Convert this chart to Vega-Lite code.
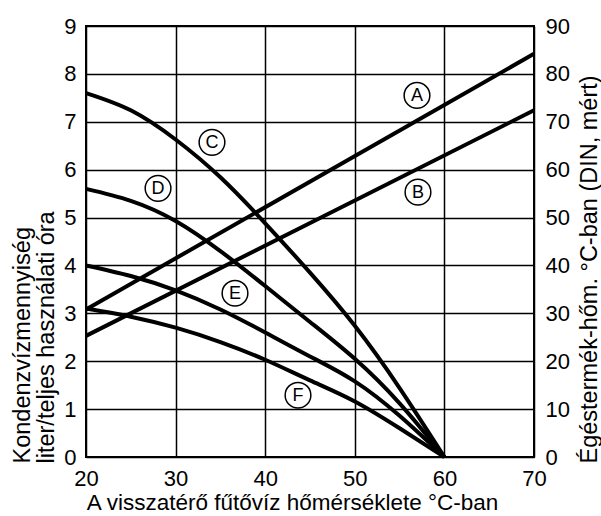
{
  "$schema": "https://vega.github.io/schema/vega-lite/v6.json",
  "width": 448,
  "height": 431,
  "autosize": "none",
  "padding": {"left": 86, "top": 26, "right": 67, "bottom": 59},
  "config": {
    "view": {"stroke": "black", "strokeWidth": 2},
    "font": "Liberation Sans",
    "axis": {
      "labelFont": "Liberation Sans",
      "titleFont": "Liberation Sans",
      "labelFontSize": 22,
      "titleFontSize": 22.5,
      "titleFontWeight": "normal",
      "labelColor": "black",
      "titleColor": "black",
      "ticks": false,
      "domain": false,
      "labelFlush": false,
      "gridColor": "black",
      "gridOpacity": 1,
      "gridWidth": 1.5
    }
  },
  "datasets": {
    "curves": [
      {"series": "C", "t": 20, "v": 7.6}, {"series": "C", "t": 25, "v": 7.24}, {"series": "C", "t": 30, "v": 6.63},
      {"series": "C", "t": 35, "v": 5.84}, {"series": "C", "t": 40, "v": 4.88}, {"series": "C", "t": 45, "v": 3.85},
      {"series": "C", "t": 50, "v": 2.74}, {"series": "C", "t": 55, "v": 1.44}, {"series": "C", "t": 60, "v": 0},
      {"series": "D", "t": 20, "v": 5.6}, {"series": "D", "t": 25, "v": 5.35}, {"series": "D", "t": 30, "v": 4.93},
      {"series": "D", "t": 35, "v": 4.3}, {"series": "D", "t": 40, "v": 3.57}, {"series": "D", "t": 45, "v": 2.82},
      {"series": "D", "t": 50, "v": 2.05}, {"series": "D", "t": 55, "v": 1.12}, {"series": "D", "t": 60, "v": 0},
      {"series": "E", "t": 20, "v": 4.0}, {"series": "E", "t": 25, "v": 3.78}, {"series": "E", "t": 30, "v": 3.48},
      {"series": "E", "t": 35, "v": 3.08}, {"series": "E", "t": 40, "v": 2.6}, {"series": "E", "t": 45, "v": 2.1},
      {"series": "E", "t": 50, "v": 1.58}, {"series": "E", "t": 55, "v": 0.86}, {"series": "E", "t": 60, "v": 0},
      {"series": "F", "t": 20, "v": 3.1}, {"series": "F", "t": 25, "v": 2.93}, {"series": "F", "t": 30, "v": 2.7},
      {"series": "F", "t": 35, "v": 2.4}, {"series": "F", "t": 40, "v": 2.03}, {"series": "F", "t": 45, "v": 1.6},
      {"series": "F", "t": 50, "v": 1.16}, {"series": "F", "t": 55, "v": 0.6}, {"series": "F", "t": 60, "v": 0}
    ],
    "lines": [
      {"series": "A", "t": 20, "temp": 30.8}, {"series": "A", "t": 70, "temp": 84.2},
      {"series": "B", "t": 20, "temp": 25.3}, {"series": "B", "t": 70, "temp": 72.4}
    ],
    "labels": [
      {"label": "A", "t": 56.94, "v": 7.55},
      {"label": "B", "t": 57.05, "v": 5.53},
      {"label": "C", "t": 34.06, "v": 6.57},
      {"label": "D", "t": 28.04, "v": 5.61},
      {"label": "E", "t": 36.63, "v": 3.42},
      {"label": "F", "t": 43.66, "v": 1.29}
    ]
  },
  "layer": [
    {
      "layer": [
        {
          "data": {"name": "curves"},
          "mark": {"type": "line", "interpolate": "natural", "color": "black", "strokeWidth": 4},
          "encoding": {
            "x": {"field": "t", "type": "quantitative", "scale": {"domain": [20, 70], "nice": false},
              "axis": {"values": [20, 30, 40, 50, 60, 70], "grid": true, "labelPadding": 11,
                "title": "A visszatérő fűtővíz hőmérséklete °C-ban", "titleX": 206, "titleY": 52,
                "titleAlign": "center", "titleBaseline": "alphabetic"}},
            "y": {"field": "v", "type": "quantitative", "scale": {"domain": [0, 9], "nice": false},
              "axis": {"orient": "left", "values": [0, 1, 2, 3, 4, 5, 6, 7, 8, 9], "grid": true, "labelPadding": 10,
                "title": ["Kondenzvízmennyiség", "liter/teljes használati óra"],
                "titleFontSize": 23.5,
                "titleAngle": -90, "titleAlign": "left", "titleBaseline": "top",
                "titleX": -76, "titleY": 437, "titleLineHeight": 24}},
            "detail": {"field": "series"}
          }
        },
        {
          "data": {"name": "labels"},
          "mark": {"type": "point", "shape": "circle", "size": 660, "filled": true, "fill": "white", "stroke": "black", "strokeWidth": 1.5, "opacity": 1},
          "encoding": {
            "x": {"field": "t", "type": "quantitative"},
            "y": {"field": "v", "type": "quantitative"}
          }
        },
        {
          "data": {"name": "labels"},
          "mark": {"type": "text", "fontSize": 18, "font": "Liberation Sans", "color": "black", "baseline": "middle", "align": "center", "dy": 1},
          "encoding": {
            "x": {"field": "t", "type": "quantitative"},
            "y": {"field": "v", "type": "quantitative"},
            "text": {"field": "label"}
          }
        }
      ]
    },
    {
      "data": {"name": "lines"},
      "mark": {"type": "line", "color": "black", "strokeWidth": 4},
      "encoding": {
        "x": {"field": "t", "type": "quantitative"},
        "y": {"field": "temp", "type": "quantitative", "scale": {"domain": [0, 90], "nice": false},
          "axis": {"orient": "right", "values": [0, 10, 20, 30, 40, 50, 60, 70, 80, 90], "grid": false, "labelPadding": 11,
            "title": "Égéstermék-hőm. °C-ban (DIN, mért)",
            "titleFontSize": 23.5,
            "titleAngle": -90, "titleAlign": "left", "titleBaseline": "top",
            "titleX": 43, "titleY": 437}},
        "detail": {"field": "series"}
      }
    }
  ],
  "resolve": {"scale": {"y": "independent"}}
}
